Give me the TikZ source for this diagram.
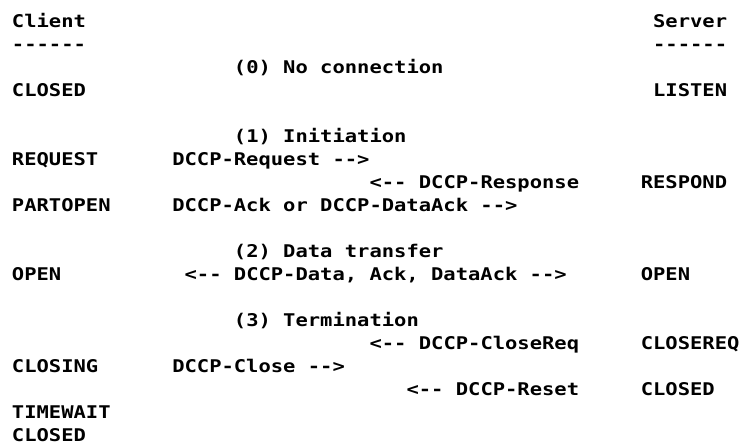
\documentclass[tikz,border=0pt]{standalone}
\usepackage{fontspec}
\setmonofont[FakeStretch=1.17]{DejaVu Sans Mono}
\begin{document}
\begin{tikzpicture}[x=1pt,y=-1pt,
  txt/.style={anchor=base west, inner sep=0pt, outer sep=0pt, font=\fontsize{17.5pt}{20pt}\ttfamily\bfseries}]
\def\cx#1{{12+#1*12.33}}
\useasboundingbox[fill=white] (0,0) rectangle (740,446);
% line 1
\node[txt] (client) at (\cx{0},28) {Client};
\node[txt] (server) at (\cx{52},28) {Server};
% line 2
\node[txt] (cline) at (\cx{0},51) {------};
\node[txt] (sline) at (\cx{52},51) {------};
% line 3-4
\node[txt] (ph0) at (\cx{18},74) {(0) No connection};
\node[txt] (cclosed) at (\cx{0},97) {CLOSED};
\node[txt] (slisten) at (\cx{52},97) {LISTEN};
% initiation
\node[txt] (ph1) at (\cx{18},143) {(1) Initiation};
\node[txt] (crequest) at (\cx{0},166) {REQUEST};
\node[txt] (mrequest) at (\cx{13},166) {DCCP-Request -->};
\node[txt] (mresponse) at (\cx{29},189) {<-- DCCP-Response};
\node[txt] (srespond) at (\cx{51},189) {RESPOND};
\node[txt] (cpartopen) at (\cx{0},212) {PARTOPEN};
\node[txt] (mack) at (\cx{13},212) {DCCP-Ack or DCCP-DataAck -->};
% data transfer
\node[txt] (ph2) at (\cx{18},258) {(2) Data transfer};
\node[txt] (copen) at (\cx{0},281) {OPEN};
\node[txt] (mdata) at (\cx{14},281) {<-- DCCP-Data, Ack, DataAck -->};
\node[txt] (sopen) at (\cx{51},281) {OPEN};
% termination
\node[txt] (ph3) at (\cx{18},327) {(3) Termination};
\node[txt] (mclosereq) at (\cx{29},350) {<-- DCCP-CloseReq};
\node[txt] (sclosereq) at (\cx{51},350) {CLOSEREQ};
\node[txt] (cclosing) at (\cx{0},373) {CLOSING};
\node[txt] (mclose) at (\cx{13},373) {DCCP-Close -->};
\node[txt] (mreset) at (\cx{32},396) {<-- DCCP-Reset};
\node[txt] (sclosed) at (\cx{51},396) {CLOSED};
\node[txt] (ctimewait) at (\cx{0},419) {TIMEWAIT};
\node[txt] (cclosed2) at (\cx{0},442) {CLOSED};
\end{tikzpicture}
\end{document}
